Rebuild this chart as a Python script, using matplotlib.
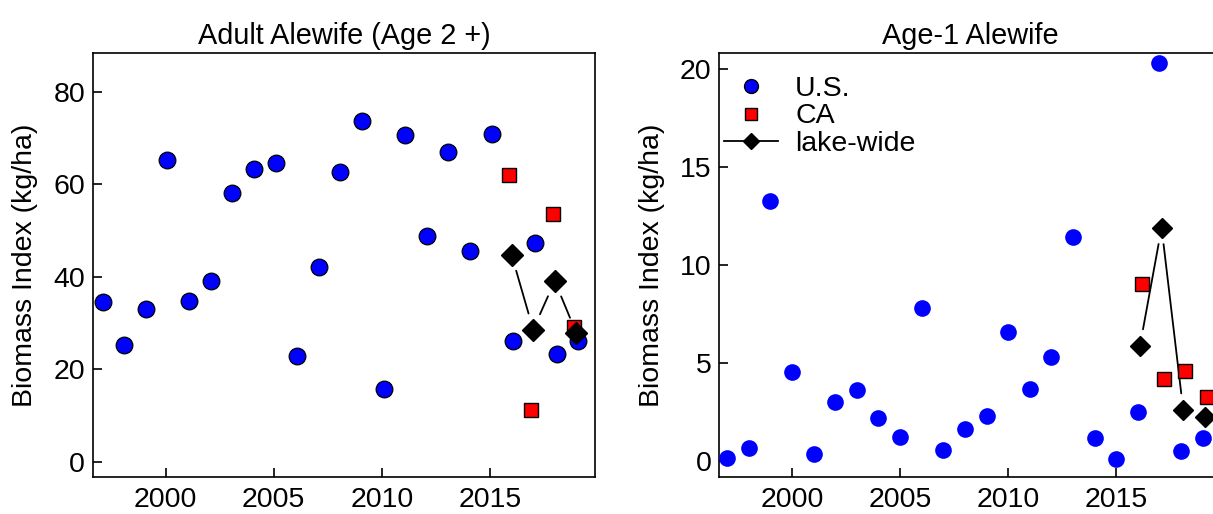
import numpy as np
import matplotlib
matplotlib.use('Agg')
import matplotlib.pyplot as plt
from matplotlib.lines import Line2D

plt.rcParams['font.family'] = ['Liberation Sans', 'DejaVu Sans']
plt.rcParams['font.size'] = 20.5

# survey years
years = np.arange(1997, 2020)
ca_years = np.array([2016, 2017, 2018, 2019])

# Adult alewife (age 2+) biomass index, kg/ha
adult_us = [34.5, 25.2, 33.0, 65.4, 34.7, 39.0, 58.2, 63.4, 64.6, 22.8, 42.2, 62.8,
            73.7, 15.8, 70.7, 48.9, 67.0, 45.6, 70.9, 26.2, 47.4, 23.3, 26.2]
adult_ca = [62.0, 11.2, 53.7, 29.2]
adult_lake = [44.8, 28.6, 39.1, 27.8]

# Age-1 alewife biomass index, kg/ha
age1_us = [0.12, 0.63, 13.28, 4.51, 0.34, 3.01, 3.61, 2.20, 1.23, 7.78, 0.54, 1.60,
           2.28, 6.59, 3.68, 5.31, 11.42, 1.16, 0.07, 2.50, 20.32, 0.49, 1.14]
age1_ca = [9.0, 4.17, 4.58, 3.27]
age1_lake = [5.87, 11.9, 2.59, 2.25]

fig = plt.figure(figsize=(12.13, 5.14), dpi=100)
w = 0.4141
ax1 = fig.add_axes([0.0764, 0.0714, w, 0.8249])
ax2 = fig.add_axes([0.5927, 0.0714, w, 0.8249])


def lake_line(ax, x, y):
    # R style type="b": segments stop short of the points
    for i in range(len(y) - 1):
        ax.annotate('', xy=(x[i + 1], y[i + 1]), xytext=(x[i], y[i]),
                    arrowprops=dict(arrowstyle='-', color='black', lw=1.3,
                                    shrinkA=12, shrinkB=12), zorder=2)


# left panel
ax1.plot(years + 0.08, adult_us, 'o', color='blue', markeredgecolor='black',
         markeredgewidth=0.9, markersize=12, zorder=3)
ax1.plot(ca_years - 0.1, adult_ca, 's', color='red', markeredgecolor='black',
         markeredgewidth=1.0, markersize=10.5, zorder=4)
lake_line(ax1, ca_years, adult_lake)
ax1.plot(ca_years, adult_lake, 'D', color='black', markersize=11, zorder=5)
ax1.set_xlim(1996.62, 2019.86)
ax1.set_ylim(-3.4, 88.4)
ax1.set_yticks([0, 20, 40, 60, 80])
ax1.set_title('Adult Alewife (Age 2 +)', pad=7, fontsize=20.8)

# right panel
ax2.plot(years, age1_us, 'o', color='blue', markeredgewidth=0,
         markersize=12, zorder=3)
ax2.plot(ca_years + 0.2, age1_ca, 's', color='red', markeredgecolor='black',
         markeredgewidth=1.0, markersize=10, zorder=4)
lake_line(ax2, ca_years + 0.1, age1_lake)
ax2.plot(ca_years + 0.1, age1_lake, 'D', color='black', markersize=10.5, zorder=5)
ax2.set_xlim(1996.62, 2019.86)
ax2.set_ylim(-0.85, 20.8)
ax2.set_yticks([0, 5, 10, 15, 20])
ax2.set_title('Age-1 Alewife', pad=7, fontsize=20.8)

handles = [
    Line2D([], [], linestyle='none', marker='o', color='blue',
           markeredgecolor='black', markersize=10),
    Line2D([], [], linestyle='none', marker='s', color='red',
           markeredgecolor='black', markersize=8.6),
    Line2D([], [], linestyle='-', marker='D', color='black', lw=1.3,
           markersize=8.5),
]
ax2.legend(handles, ['U.S.', 'CA', 'lake-wide'], loc='upper left',
           bbox_to_anchor=(0.01, 0.947), borderaxespad=0, borderpad=0,
           frameon=False, handlelength=1.9, handletextpad=0.6,
           labelspacing=0.06)

for ax in (ax1, ax2):
    ax.set_xticks([2000, 2005, 2010, 2015])
    ax.tick_params(direction='in', length=6.5, width=1.2)
    ax.tick_params(axis='x', pad=7)
    ax.tick_params(axis='y', pad=5.5)
    for s in ax.spines.values():
        s.set_linewidth(1.2)
    ax.set_ylabel('Biomass Index (kg/ha)')
    ax.yaxis.set_label_coords(-0.108, 0.5)

plt.savefig('out.png', dpi=100)
